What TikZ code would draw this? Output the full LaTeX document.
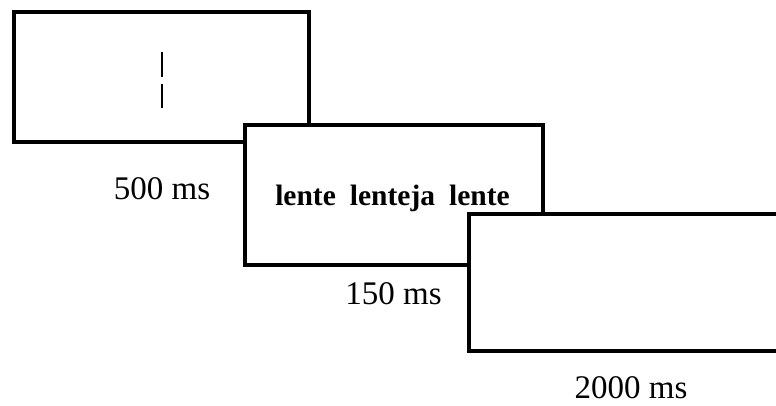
\documentclass[tikz,border=0pt]{standalone}
\usepackage{fontspec}
\setmainfont{Liberation Serif}
\begin{document}
\begin{tikzpicture}[x=1pt,y=-1pt,
  screen/.style={draw=black,fill=white,line width=3.2pt,rectangle,anchor=north west,inner sep=0pt,outer sep=0pt},
  timing/.style={font=\fontsize{33}{37}\selectfont,anchor=base,inner sep=0pt},
  fixbar/.style={draw=black,line width=2.2pt}]
\useasboundingbox (0,0) rectangle (776,405);
% fixation screen
\node[screen,minimum width=295pt,minimum height=130pt] (s1) at (14,12) {};
\coordinate (b1a) at (162,52);
\coordinate (b1b) at (162,77);
\coordinate (b2a) at (162,84);
\coordinate (b2b) at (162,108);
\draw[fixbar] (b1a) -- (b1b);
\draw[fixbar] (b2a) -- (b2b);
% prime / target screen
\node[screen,minimum width=298pt,minimum height=140pt] (s2) at (245,125) {};
\node[anchor=base,inner sep=0pt,font=\bfseries\fontsize{29.5}{34}\selectfont] (words) at (392.5,205)
  {lente\hspace{14pt}lenteja\hspace{14pt}lente};
% response screen
\node[screen,minimum width=340pt,minimum height=137pt] (s3) at (469,214) {};
% durations
\node[timing] (t1) at (162,199) {500 ms};
\node[timing] (t2) at (393.5,304) {150 ms};
\node[timing] (t3) at (631,398) {2000 ms};
\end{tikzpicture}
\end{document}
